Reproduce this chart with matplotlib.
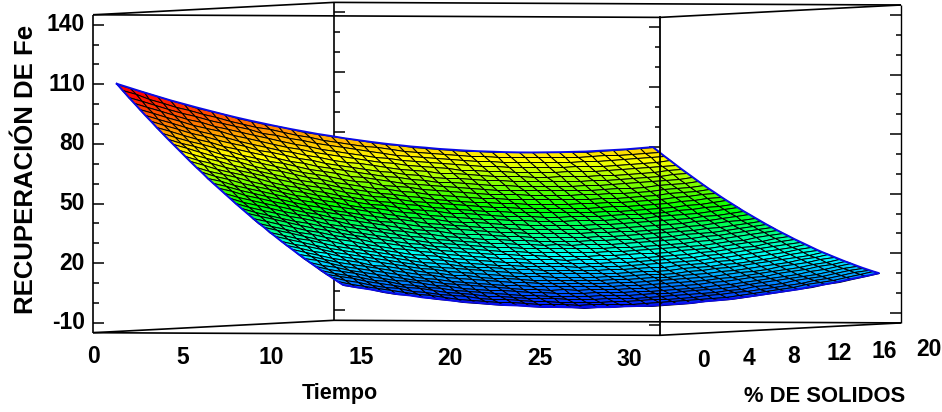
import matplotlib
matplotlib.use('Agg')
import matplotlib.pyplot as plt
import numpy as np
from matplotlib.colors import LinearSegmentedColormap, Normalize

plt.rcParams['font.family'] = ['Liberation Sans', 'DejaVu Sans']

# values
tiempo = np.arange(0, 30.1, 0.75)
solidos = np.arange(0, 20.1, 0.5)
z_ticks = [-10, 20, 50, 80, 110, 140]
z_minor = [0, 10, 30, 40, 60, 70, 90, 100, 120, 130]
t_ticks = [0, 5, 10, 15, 20, 25, 30]
s_ticks = [0, 4, 8, 12, 16, 20]
# one row for each % de solidos, one column for each tiempo
recuperacion = np.array([
[110.0,107.9,105.8,103.8,101.8,100.0,98.2,96.5,94.8,93.2,91.7,90.3,88.9,87.6,86.4,85.2,84.2,83.1,82.2,81.3,80.5,79.8,79.1,78.6,78.0,77.6,77.2,76.9,76.7,76.5,76.4,76.4,76.5,76.6,76.8,77.0,77.4,77.8,78.2,78.8,79.4],
[106.6,104.6,102.5,100.5,98.5,96.8,95.0,93.3,91.6,90.1,88.6,87.2,85.8,84.6,83.4,82.2,81.2,80.1,79.3,78.4,77.6,76.9,76.3,75.8,75.2,74.8,74.5,74.2,74.0,73.8,73.8,73.8,73.9,74.0,74.2,74.5,74.9,75.3,75.7,76.4,77.0],
[103.3,101.3,99.2,97.2,95.3,93.6,91.8,90.1,88.5,87.0,85.5,84.1,82.8,81.6,80.4,79.2,78.3,77.2,76.4,75.5,74.7,74.1,73.5,73.0,72.4,72.1,71.8,71.5,71.3,71.2,71.2,71.2,71.3,71.5,71.7,72.0,72.4,72.8,73.3,74.0,74.6],
[100.0,98.0,96.0,94.0,92.1,90.4,88.7,87.0,85.4,83.9,82.5,81.1,79.8,78.6,77.4,76.3,75.4,74.3,73.5,72.7,71.9,71.3,70.7,70.3,69.7,69.4,69.1,68.9,68.7,68.6,68.6,68.6,68.8,69.0,69.2,69.5,70.0,70.4,71.0,71.6,72.3],
[96.8,94.8,92.8,90.8,88.9,87.3,85.6,83.9,82.3,80.9,79.5,78.1,76.8,75.7,74.5,73.4,72.5,71.5,70.7,69.9,69.2,68.6,68.0,67.6,67.0,66.7,66.5,66.3,66.1,66.0,66.1,66.1,66.3,66.5,66.8,67.1,67.6,68.0,68.6,69.3,70.0],
[93.5,91.6,89.6,87.6,85.8,84.2,82.5,80.9,79.3,77.9,76.5,75.2,73.9,72.8,71.6,70.6,69.7,68.7,67.9,67.2,66.5,65.9,65.3,64.9,64.4,64.1,63.9,63.7,63.6,63.5,63.5,63.6,63.8,64.0,64.3,64.7,65.2,65.7,66.3,67.0,67.7],
[90.4,88.4,86.4,84.6,82.8,81.0,79.4,77.8,76.3,74.9,73.5,72.2,71.0,69.8,68.7,67.8,66.8,65.9,65.1,64.4,63.7,63.1,62.6,62.2,61.8,61.5,61.3,61.1,61.0,61.0,61.0,61.2,61.3,61.6,62.0,62.3,62.8,63.4,64.0,64.7,65.5],
[87.2,85.3,83.3,81.5,79.8,78.0,76.4,74.8,73.3,72.0,70.5,69.3,68.1,67.0,65.9,65.0,64.0,63.2,62.4,61.7,61.1,60.4,60.0,59.6,59.2,58.9,58.7,58.6,58.5,58.6,58.6,58.7,58.9,59.2,59.6,60.0,60.5,61.1,61.7,62.5,63.3],
[84.1,82.2,80.2,78.4,76.7,75.0,73.4,71.8,70.4,69.0,67.7,66.4,65.3,64.1,63.1,62.2,61.2,60.5,59.7,59.0,58.4,57.8,57.4,57.0,56.6,56.4,56.2,56.1,56.1,56.1,56.2,56.4,56.6,56.9,57.3,57.7,58.2,58.9,59.5,60.3,61.1],
[81.0,79.1,77.2,75.4,73.7,72.0,70.5,68.9,67.5,66.2,64.8,63.6,62.5,61.4,60.4,59.5,58.5,57.8,57.1,56.4,55.8,55.2,54.8,54.5,54.1,53.9,53.8,53.6,53.6,53.7,53.8,54.0,54.2,54.6,55.0,55.4,56.0,56.7,57.3,58.1,58.9],
[78.0,76.1,74.2,72.5,70.8,69.1,67.6,66.1,64.7,63.3,62.0,60.8,59.7,58.6,57.7,56.8,55.9,55.1,54.4,53.8,53.2,52.7,52.3,52.0,51.7,51.5,51.3,51.2,51.3,51.4,51.5,51.7,52.0,52.3,52.8,53.2,53.8,54.5,55.2,56.0,56.8],
[75.0,73.1,71.2,69.5,67.9,66.2,64.7,63.2,61.8,60.5,59.3,58.1,57.0,55.9,55.0,54.1,53.3,52.5,51.8,51.2,50.7,50.2,49.8,49.5,49.2,49.0,48.9,48.9,48.9,49.0,49.2,49.4,49.7,50.1,50.6,51.1,51.7,52.4,53.1,53.9,54.8],
[72.0,70.1,68.3,66.6,65.0,63.4,61.9,60.4,59.1,57.8,56.5,55.4,54.3,53.3,52.3,51.5,50.7,49.9,49.3,48.7,48.2,47.7,47.3,47.1,46.8,46.7,46.6,46.5,46.6,46.7,46.9,47.2,47.5,47.9,48.4,48.9,49.5,50.2,51.0,51.8,52.7],
[69.0,67.2,65.4,63.7,62.1,60.6,59.1,57.6,56.3,55.0,53.8,52.7,51.6,50.6,49.7,48.9,48.1,47.4,46.8,46.2,45.7,45.3,44.9,44.7,44.4,44.3,44.2,44.2,44.3,44.5,44.7,45.0,45.3,45.7,46.2,46.8,47.4,48.2,48.9,49.8,50.7],
[66.1,64.3,62.6,60.9,59.3,57.8,56.3,54.9,53.6,52.4,51.2,50.1,49.0,48.1,47.2,46.3,45.6,44.9,44.3,43.7,43.3,42.9,42.5,42.3,42.1,42.0,41.9,42.0,42.1,42.3,42.5,42.8,43.2,43.6,44.1,44.7,45.4,46.1,46.9,47.8,48.8],
[63.3,61.5,59.8,58.1,56.5,55.0,53.6,52.2,50.9,49.7,48.5,47.4,46.4,45.5,44.6,43.8,43.1,42.4,41.8,41.3,40.9,40.5,40.2,40.0,39.8,39.7,39.7,39.7,39.9,40.1,40.3,40.6,41.1,41.5,42.1,42.7,43.4,44.1,45.0,45.9,46.8],
[60.4,58.7,57.0,55.3,53.8,52.3,50.9,49.6,48.3,47.1,45.9,44.9,43.9,43.0,42.1,41.3,40.6,40.0,39.4,38.9,38.5,38.2,37.9,37.7,37.5,37.5,37.5,37.6,37.7,37.9,38.2,38.5,39.0,39.5,40.0,40.7,41.4,42.2,43.0,44.0,44.9],
[57.6,55.9,54.2,52.6,51.1,49.6,48.2,46.9,45.7,44.5,43.4,42.3,41.4,40.5,39.7,38.9,38.2,37.6,37.0,36.6,36.2,35.9,35.6,35.4,35.3,35.3,35.3,35.4,35.5,35.8,36.1,36.5,36.9,37.5,38.0,38.7,39.4,40.3,41.1,42.1,43.1],
[54.9,53.2,51.5,49.9,48.4,47.0,45.6,44.3,43.1,41.9,40.9,39.8,38.9,38.0,37.2,36.5,35.8,35.2,34.7,34.3,33.9,33.6,33.4,33.2,33.1,33.1,33.1,33.3,33.4,33.7,34.1,34.4,34.9,35.5,36.1,36.8,37.5,38.4,39.3,40.2,41.3],
[52.2,50.4,48.8,47.3,45.8,44.4,43.0,41.8,40.6,39.4,38.4,37.4,36.4,35.6,34.8,34.1,33.5,32.9,32.4,32.0,31.6,31.4,31.2,31.0,31.0,31.0,31.0,31.2,31.4,31.7,32.0,32.4,33.0,33.5,34.2,34.9,35.7,36.5,37.4,38.4,39.5],
[49.5,47.8,46.2,44.6,43.2,41.8,40.5,39.3,38.1,36.9,35.9,34.9,34.0,33.2,32.5,31.8,31.2,30.6,30.1,29.8,29.4,29.2,29.0,28.9,28.8,28.9,28.9,29.1,29.3,29.7,30.1,30.5,31.0,31.6,32.3,33.0,33.8,34.7,35.7,36.7,37.7],
[46.8,45.1,43.6,42.1,40.6,39.3,37.9,36.8,35.6,34.5,33.5,32.5,31.6,30.9,30.1,29.4,28.9,28.4,27.9,27.6,27.2,27.0,26.8,26.7,26.8,26.8,26.9,27.1,27.3,27.7,28.1,28.6,29.1,29.7,30.4,31.2,32.0,32.9,33.9,34.9,36.0],
[44.2,42.5,41.0,39.5,38.1,36.8,35.5,34.3,33.2,32.1,31.1,30.2,29.3,28.6,27.8,27.2,26.7,26.1,25.7,25.4,25.1,24.9,24.7,24.7,24.7,24.8,24.9,25.1,25.4,25.7,26.2,26.7,27.3,27.9,28.6,29.4,30.2,31.1,32.2,33.2,34.3],
[41.6,40.0,38.5,37.0,35.6,34.3,33.0,31.9,30.8,29.7,28.8,27.9,27.0,26.3,25.6,24.9,24.5,24.0,23.5,23.3,23.0,22.8,22.7,22.6,22.7,22.8,22.9,23.2,23.5,23.8,24.3,24.8,25.5,26.1,26.8,27.7,28.5,29.4,30.5,31.6,32.7],
[39.1,37.4,36.0,34.5,33.1,31.9,30.6,29.5,28.4,27.4,26.5,25.6,24.7,24.1,23.4,22.7,22.3,21.8,21.4,21.2,20.9,20.8,20.7,20.6,20.7,20.8,21.0,21.3,21.6,22.0,22.5,23.0,23.7,24.3,25.1,25.9,26.8,27.8,28.8,29.9,31.1],
[36.5,34.9,33.5,32.1,30.7,29.5,28.2,27.2,26.1,25.1,24.2,23.3,22.5,21.9,21.2,20.6,20.1,19.7,19.3,19.1,18.8,18.8,18.7,18.6,18.8,18.9,19.0,19.4,19.7,20.1,20.7,21.2,21.9,22.6,23.3,24.2,25.1,26.1,27.2,28.3,29.5],
[34.1,32.5,31.1,29.7,28.3,27.1,25.9,24.9,23.8,22.8,21.9,21.1,20.3,19.7,19.0,18.4,18.0,17.6,17.2,17.1,16.8,16.8,16.7,16.7,16.9,17.0,17.2,17.6,17.9,18.3,18.9,19.5,20.2,20.9,21.7,22.6,23.5,24.5,25.6,26.8,28.0],
[31.6,30.1,28.7,27.3,26.0,24.8,23.6,22.6,21.5,20.6,19.7,18.9,18.1,17.6,16.9,16.4,16.0,15.6,15.2,15.1,14.9,14.8,14.8,14.8,15.0,15.1,15.3,15.8,16.1,16.6,17.2,17.7,18.5,19.2,20.0,21.0,21.9,22.9,24.1,25.3,26.5],
[29.2,27.7,26.3,24.9,23.6,22.5,21.3,20.4,19.3,18.4,17.6,16.8,16.0,15.5,14.8,14.3,14.0,13.6,13.2,13.1,12.9,12.9,12.9,12.9,13.1,13.3,13.5,14.0,14.4,14.8,15.5,16.1,16.9,17.6,18.4,19.4,20.4,21.4,22.6,23.8,25.0],
[26.8,25.3,24.0,22.6,21.3,20.3,19.1,18.1,17.1,16.2,15.4,14.6,13.9,13.4,12.8,12.3,12.0,11.6,11.3,11.2,11.0,11.1,11.0,11.1,11.3,11.5,11.8,12.3,12.6,13.1,13.8,14.4,15.2,16.0,16.8,17.9,18.8,19.9,21.1,22.3,23.5],
[24.5,23.0,21.7,20.4,19.1,18.0,16.9,16.0,15.0,14.1,13.3,12.6,11.8,11.4,10.8,10.3,10.0,9.6,9.3,9.3,9.1,9.2,9.2,9.3,9.6,9.8,10.0,10.6,11.0,11.5,12.2,12.8,13.7,14.4,15.3,16.3,17.3,18.4,19.7,20.9,22.1],
[22.2,20.7,19.5,18.1,16.9,15.9,14.7,13.8,12.9,12.0,11.3,10.5,9.8,9.4,8.8,8.3,8.1,7.7,7.5,7.4,7.3,7.4,7.4,7.5,7.8,8.1,8.4,8.9,9.3,9.9,10.6,11.2,12.1,12.9,13.8,14.9,15.9,17.0,18.3,19.5,20.8],
[19.9,18.5,17.2,15.9,14.7,13.7,12.6,11.7,10.8,9.9,9.2,8.5,7.8,7.4,6.9,6.4,6.2,5.9,5.6,5.6,5.5,5.6,5.7,5.8,6.1,6.4,6.7,7.3,7.7,8.3,9.0,9.7,10.6,11.4,12.3,13.4,14.5,15.6,16.9,18.2,19.5],
[17.7,16.3,15.1,13.8,12.6,11.6,10.5,9.7,8.7,7.9,7.3,6.5,5.9,5.5,5.0,4.5,4.3,4.0,3.8,3.8,3.8,3.9,4.0,4.1,4.5,4.7,5.1,5.7,6.1,6.7,7.5,8.2,9.1,10.0,10.9,12.0,13.1,14.2,15.6,16.8,18.2],
[15.5,14.1,12.9,11.6,10.5,9.5,8.4,7.7,6.7,5.9,5.3,4.6,4.0,3.6,3.1,2.7,2.5,2.2,2.0,2.1,2.0,2.2,2.3,2.4,2.8,3.1,3.5,4.1,4.6,5.2,6.0,6.7,7.7,8.6,9.5,10.7,11.7,12.9,14.3,15.6,16.9],
[13.3,11.9,10.8,9.6,8.4,7.5,6.4,5.7,4.8,3.9,3.4,2.7,2.1,1.7,1.3,0.9,0.7,0.5,0.3,0.4,0.3,0.6,0.6,0.8,1.3,1.6,1.9,2.6,3.1,3.7,4.6,5.3,6.3,7.2,8.1,9.3,10.4,11.6,13.0,14.3,15.7],
[11.2,9.8,8.7,7.5,6.3,5.5,4.4,3.7,2.8,2.0,1.5,0.8,0.2,-0.1,-0.5,-0.9,-1.0,-1.3,-1.4,-1.3,-1.3,-1.1,-1.0,-0.8,-0.3,0.0,0.4,1.1,1.6,2.3,3.1,3.9,4.9,5.8,6.8,8.0,9.1,10.3,11.8,13.1,14.5],
[9.1,7.8,6.7,5.5,4.3,3.5,2.5,1.8,0.9,0.1,-0.4,-1.0,-1.6,-1.9,-2.3,-2.7,-2.7,-2.9,-3.1,-3.0,-3.0,-2.7,-2.5,-2.3,-1.8,-1.5,-1.1,-0.4,0.2,0.9,1.8,2.5,3.6,4.5,5.5,6.8,7.9,9.1,10.6,11.9,13.3],
[7.0,5.7,4.7,3.5,2.4,1.6,0.6,-0.1,-1.0,-1.7,-2.2,-2.8,-3.4,-3.6,-4.0,-4.4,-4.4,-4.6,-4.7,-4.6,-4.5,-4.2,-4.1,-3.9,-3.3,-3.0,-2.5,-1.8,-1.2,-0.5,0.4,1.2,2.3,3.2,4.2,5.5,6.7,7.9,9.4,10.8,12.2],
[5.0,3.7,2.7,1.5,0.4,-0.4,-1.3,-2.0,-2.8,-3.5,-4.0,-4.6,-5.1,-5.3,-5.7,-6.0,-6.1,-6.2,-6.3,-6.1,-6.1,-5.8,-5.6,-5.3,-4.8,-4.4,-3.9,-3.2,-2.6,-1.9,-0.9,-0.1,1.0,2.0,3.0,4.4,5.5,6.8,8.3,9.7,11.1],
[3.0,1.8,0.8,-0.4,-1.5,-2.2,-3.2,-3.8,-4.6,-5.3,-5.7,-6.3,-6.8,-7.0,-7.4,-7.7,-7.7,-7.8,-7.9,-7.7,-7.6,-7.2,-7.0,-6.8,-6.2,-5.8,-5.3,-4.5,-3.9,-3.2,-2.2,-1.3,-0.2,0.8,1.8,3.2,4.4,5.7,7.2,8.6,10.1],
])

# limits of the box
t_min, t_max = -0.7, 31.03
s_min, s_max = -1.0, 20.33
z_min, z_max = -15.0, 145.0


def proj(t, s, z):
    # fixed view of the 3D box, result in figure pixels
    x = 93 + 17.87 * (t - t_min) + 11.3 * (s - s_min)
    y = 332.7 + 0.082 * (t - t_min) - 0.581 * (s - s_min) - 1.987 * (z - z_min)
    return x, y


def box_line(p0, p1, lw=1.2, **kw):
    x0, y0 = proj(*p0)
    x1, y1 = proj(*p1)
    ax.plot([x0, x1], [y0, y1], color='k', lw=lw, solid_capstyle='butt', **kw)


fig = plt.figure(figsize=(9.42, 4.12), dpi=100)
ax = fig.add_axes([0, 0, 1, 1])
ax.set_xlim(0, 942)
ax.set_ylim(412, 0)
ax.axis('off')

# box, back part under the surface
corners = [(t_min, s_min), (t_max, s_min), (t_max, s_max), (t_min, s_max)]
for k in range(4):
    a, b = corners[k], corners[(k + 1) % 4]
    box_line((*a, z_min), (*b, z_min))
    box_line((*a, z_max), (*b, z_max))
box_line((t_min, s_min, z_min), (t_min, s_min, z_max))
box_line((t_max, s_max, z_min), (t_max, s_max, z_max), lw=1.0)
box_line((t_min, s_max, z_min), (t_min, s_max, z_max))

# inward ticks on the 4 vertical edges
edges = [((t_min, s_min), 1), ((t_min, s_max), 1), ((t_max, s_min), -1), ((t_max, s_max), -1)]
for (t_e, s_e), side in edges:
    for vals, length in ((z_ticks, 11), (z_minor, 5.5)):
        for v in vals:
            x, y = proj(t_e, s_e, v)
            ax.plot([x, x + side * length], [y, y], color='k', lw=1.1, solid_capstyle='butt')

# surface
T, S = np.meshgrid(tiempo, solidos)
X, Y = proj(T, S, recuperacion)
cell = (recuperacion[:-1, :-1] + recuperacion[1:, :-1] + recuperacion[:-1, 1:] + recuperacion[1:, 1:]) / 4
cmap = LinearSegmentedColormap.from_list('rec', [(0, '#0000ff'), (0.25, '#00ffff'), (0.475, '#00ff00'),
                                                 (0.69, '#ffff00'), (0.96, '#ff0000'), (1, '#ff0000')])
ax.pcolormesh(X, Y, cell, cmap=cmap, norm=Normalize(-10, 110), shading='flat',
              edgecolors='k', linewidth=0.7, antialiased=True, zorder=3)
ax.plot(np.r_[X[0, :], X[:, -1], X[-1, ::-1], X[::-1, 0]],
        np.r_[Y[0, :], Y[:, -1], Y[-1, ::-1], Y[::-1, 0]], color='#0a0ae6', lw=1.4, zorder=4)

# front vertical edge goes over the surface
x0, y0 = proj(t_max, s_min, z_min)
x1, y1 = proj(t_max, s_min, z_max)
ax.plot([x0, x1], [y0, y1], color='k', lw=1.3, zorder=5)

# labels
fs = 16.5
for v in z_ticks:
    x, y = proj(t_min, s_min, v)
    ax.text(x - 8, y, str(v), ha='right', va='center', fontsize=fs, fontweight='bold')
for v in t_ticks:
    x, y = proj(v, s_min, z_min)
    ax.text(x - 12.5, y + 24, str(v), ha='center', va='center', fontsize=fs, fontweight='bold')
for v in s_ticks:
    x, y = proj(t_max, v, z_min)
    ax.text(x + 32, y + 26, str(v), ha='center', va='center', fontsize=fs, fontweight='bold')

ax.text(26, 169, 'RECUPERACIÓN DE Fe', rotation=90, ha='center', va='center', fontsize=18.5, fontweight='bold')
ax.text(340, 393, 'Tiempo', ha='center', va='center', fontsize=15.5, fontweight='bold')
ax.text(825, 397, '% DE SOLIDOS', ha='center', va='center', fontsize=15.8, fontweight='bold')

fig.savefig('out.png', dpi=100)
